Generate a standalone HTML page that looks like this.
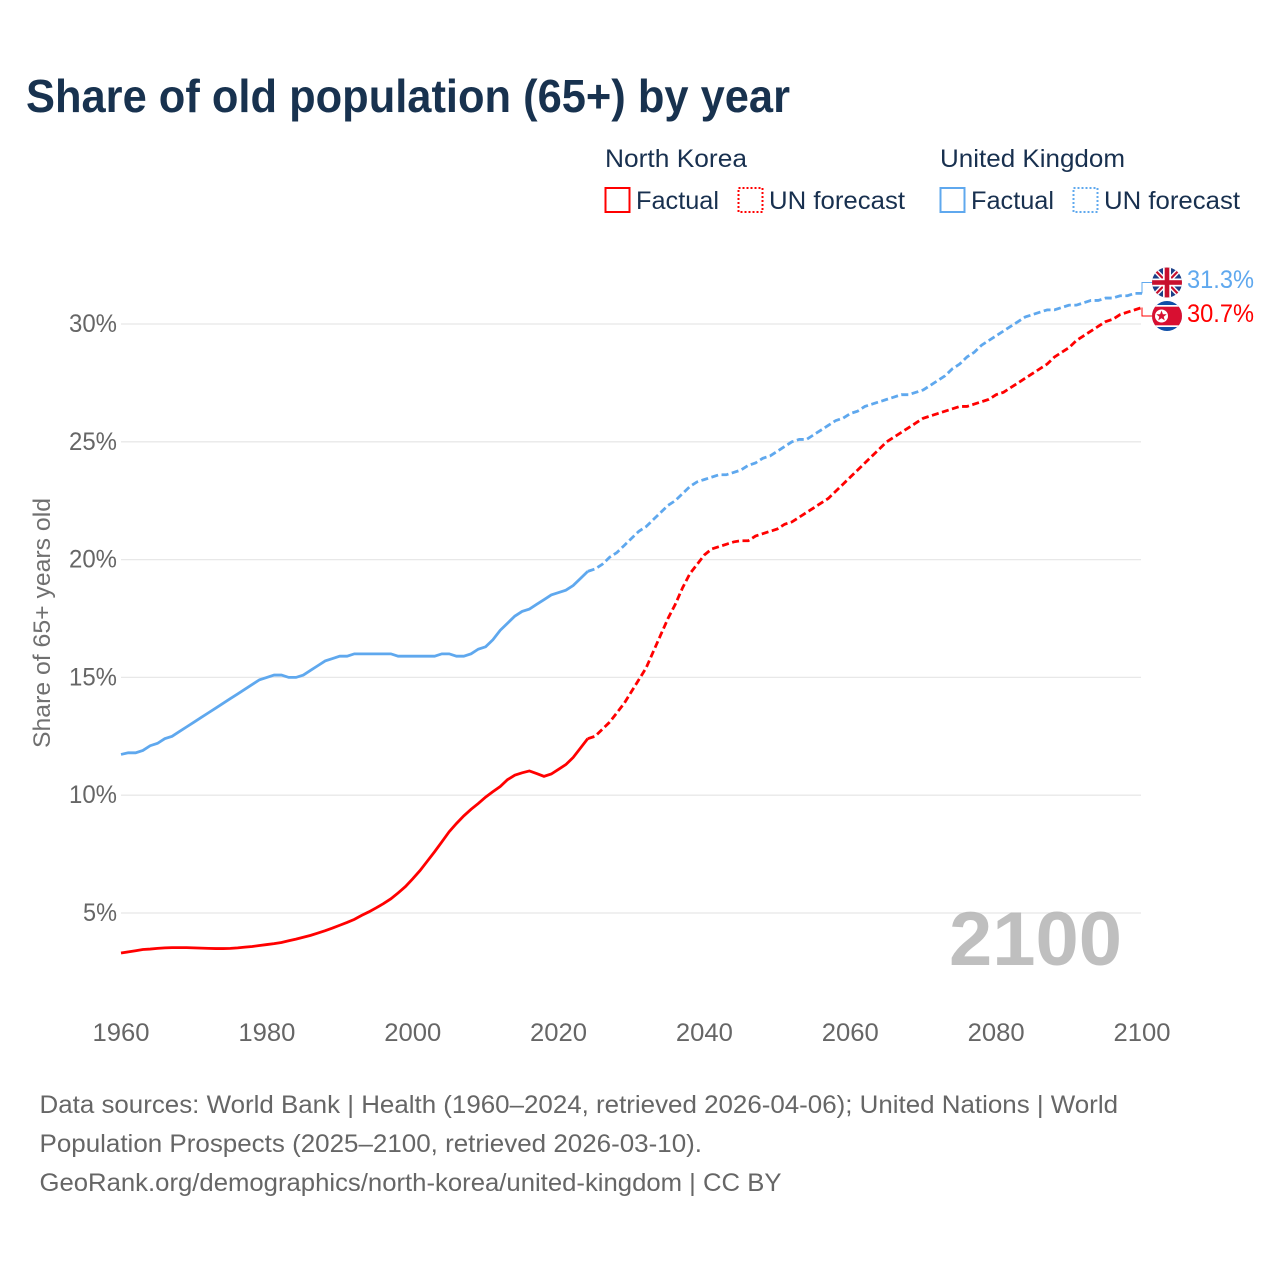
<!DOCTYPE html>
<html lang="en">
<head>
<meta charset="utf-8">
<title>Share of old population (65+) by year</title>
<style>
html,body{margin:0;padding:0;background:#fff;width:1280px;height:1280px;overflow:hidden}
svg{display:block}
text{font-family:"Liberation Sans",sans-serif}
.lg{font-size:25px;fill:#18304f}
.ft{font-size:25px;fill:#666}
</style>
</head>
<body>
<svg id="chart" xmlns="http://www.w3.org/2000/svg" width="1280" height="1280" viewBox="0 0 1280 1280">
  <rect width="1280" height="1280" fill="#fff"/>
  <text x="26" y="112" font-size="46" font-weight="700" fill="#18324f" textLength="764" lengthAdjust="spacingAndGlyphs">Share of old population (65+) by year</text>

  <g>
    <text class="lg" x="605" y="167" textLength="142" lengthAdjust="spacingAndGlyphs">North Korea</text>
    <rect x="605.5" y="188" width="24" height="24" fill="none" stroke="#ff0000" stroke-width="2"/>
    <text class="lg" x="636" y="209" textLength="83" lengthAdjust="spacingAndGlyphs">Factual</text>
    <rect x="738.5" y="188" width="24" height="24" fill="none" stroke="#ff0000" stroke-width="2" stroke-dasharray="2 2"/>
    <text class="lg" x="769" y="209" textLength="136" lengthAdjust="spacingAndGlyphs">UN forecast</text>
    <text class="lg" x="940" y="167" textLength="185" lengthAdjust="spacingAndGlyphs">United Kingdom</text>
    <rect x="940.5" y="188" width="24" height="24" fill="none" stroke="#5fa8ee" stroke-width="2"/>
    <text class="lg" x="971" y="209" textLength="83" lengthAdjust="spacingAndGlyphs">Factual</text>
    <rect x="1073.5" y="188" width="24" height="24" fill="none" stroke="#5fa8ee" stroke-width="2" stroke-dasharray="2 2"/>
    <text class="lg" x="1104" y="209" textLength="136" lengthAdjust="spacingAndGlyphs">UN forecast</text>
  </g>

  <g id="grid"></g>
  <text x="949" y="965" font-size="76" font-weight="700" fill="#b4b4b4" fill-opacity="0.85" textLength="173" lengthAdjust="spacingAndGlyphs">2100</text>
  <g id="yticks"></g>
  <g id="xticks"></g>
  <text transform="translate(50,748) rotate(-90)" font-size="24" fill="#707070" textLength="250" lengthAdjust="spacingAndGlyphs">Share of 65+ years old</text>
  <g id="series"></g>

  <defs>
    <clipPath id="ukClip"><circle cx="1167" cy="282.5" r="15"/></clipPath>
    <clipPath id="nkClip"><circle cx="1167" cy="316" r="15"/></clipPath>
  </defs>
  <g clip-path="url(#ukClip)">
    <rect x="1150" y="265" width="34" height="36" fill="#1c3f87"/>
    <path d="M1150 265 L1184 300 M1184 265 L1150 300" stroke="#fff" stroke-width="5"/>
    <path d="M1150 265 L1184 300 M1184 265 L1150 300" stroke="#c8102e" stroke-width="2.2"/>
    <rect x="1163" y="265" width="8" height="36" fill="#fff"/>
    <rect x="1150" y="278.5" width="34" height="8" fill="#fff"/>
    <rect x="1164.7" y="265" width="4.6" height="36" fill="#c8102e"/>
    <rect x="1150" y="280.2" width="34" height="4.6" fill="#c8102e"/>
  </g>
  <g clip-path="url(#nkClip)">
    <rect x="1150" y="300" width="34" height="32" fill="#0f4fa8"/>
    <rect x="1150" y="305" width="34" height="22" fill="#fff"/>
    <rect x="1150" y="306.7" width="34" height="18.6" fill="#d80f31"/>
    <circle cx="1161.5" cy="316" r="6.5" fill="#fff"/>
    <polygon points="1161.5,310.5 1162.9,314.2 1166.7,314.3 1163.7,316.7 1164.8,320.4 1161.5,318.2 1158.2,320.4 1159.3,316.7 1156.3,314.3 1160.1,314.2" fill="#d80f31"/>
  </g>

  <g>
    <text class="ft" x="39.5" y="1113" textLength="1078.5" lengthAdjust="spacingAndGlyphs">Data sources: World Bank | Health (1960–2024, retrieved 2026-04-06); United Nations | World</text>
    <text class="ft" x="39.5" y="1152" textLength="662.5" lengthAdjust="spacingAndGlyphs">Population Prospects (2025–2100, retrieved 2026-03-10).</text>
    <text class="ft" x="39.5" y="1191" textLength="742" lengthAdjust="spacingAndGlyphs">GeoRank.org/demographics/north-korea/united-kingdom | CC BY</text>
  </g>
</svg>
<script>
const factualStartYear = 1960;
const forecastStartYear = 2024;
const yTickValues = [5, 10, 15, 20, 25, 30];
const xTickYears = [1960, 1980, 2000, 2020, 2040, 2060, 2080, 2100];

const ukFactual = [11.73,11.8,11.8,11.9,12.1,12.2,12.4,12.5,12.7,12.9,
  13.1,13.3,13.5,13.7,13.9,14.1,14.3,14.5,14.7,14.9,
  15.0,15.1,15.1,15.0,15.0,15.1,15.3,15.5,15.7,15.8,
  15.9,15.9,16.0,16.0,16.0,16.0,16.0,16.0,15.9,15.9,
  15.9,15.9,15.9,15.9,16.0,16.0,15.9,15.9,16.0,16.2,
  16.3,16.6,17.0,17.3,17.6,17.8,17.9,18.1,18.3,18.5,
  18.6,18.7,18.9,19.2,19.5];
const ukForecast = [19.5,19.6,19.8,20.1,20.3,20.6,20.9,21.2,21.4,21.7,22.0,
  22.3,22.5,22.8,23.1,23.3,23.4,23.5,23.6,23.6,23.7,
  23.8,24.0,24.1,24.3,24.4,24.6,24.8,25.0,25.1,25.1,
  25.3,25.5,25.7,25.9,26.0,26.2,26.3,26.5,26.6,26.7,
  26.8,26.9,27.0,27.0,27.1,27.2,27.4,27.6,27.8,28.1,
  28.3,28.6,28.8,29.1,29.3,29.5,29.7,29.9,30.1,30.3,
  30.4,30.5,30.6,30.6,30.7,30.8,30.8,30.9,31.0,31.0,
  31.1,31.1,31.2,31.2,31.3,31.3];
const nkFactual = [3.3,3.35,3.4,3.45,3.47,3.5,3.52,3.53,3.53,3.53,
  3.52,3.51,3.5,3.49,3.49,3.5,3.52,3.55,3.58,3.62,
  3.66,3.7,3.75,3.82,3.89,3.97,4.05,4.15,4.25,4.36,
  4.48,4.6,4.73,4.9,5.05,5.22,5.4,5.6,5.85,6.12,
  6.45,6.8,7.2,7.6,8.02,8.45,8.8,9.12,9.4,9.65,
  9.92,10.15,10.37,10.66,10.85,10.95,11.03,10.92,10.8,10.9,
  11.1,11.3,11.6,12.0,12.4];
const nkForecast = [12.4,12.5,12.8,13.1,13.5,13.9,14.4,14.9,15.4,16.1,16.8,
  17.5,18.1,18.8,19.4,19.8,20.2,20.45,20.55,20.65,20.75,
  20.8,20.8,21.0,21.1,21.2,21.3,21.5,21.6,21.8,22.0,
  22.2,22.4,22.6,22.9,23.2,23.5,23.8,24.1,24.4,24.7,
  25.0,25.2,25.4,25.6,25.8,26.0,26.1,26.2,26.3,26.4,
  26.5,26.5,26.6,26.7,26.8,27.0,27.1,27.3,27.5,27.7,
  27.9,28.1,28.3,28.6,28.8,29.0,29.3,29.5,29.7,29.9,
  30.1,30.2,30.4,30.5,30.6,30.7];

const NS = 'http://www.w3.org/2000/svg';
const xScale = function (year) { return 121 + (year - 1960) * (1021 / 140); };
const yScale = function (v) { return 913 - (v - 5) * 23.56; };

function pathFrom(values, startYear) {
  return values.map(function (v, i) {
    return (i ? 'L' : 'M') + xScale(startYear + i).toFixed(2) + ' ' + yScale(v).toFixed(2);
  }).join(' ');
}

const grid = document.getElementById('grid');
const yticks = document.getElementById('yticks');
yTickValues.forEach(function (v) {
  const ln = document.createElementNS(NS, 'line');
  
  
  ln.setAttribute('x1', 121);
  ln.setAttribute('x2', 1141);
  ln.setAttribute('y1', yScale(v));
  ln.setAttribute('y2', yScale(v));
  ln.setAttribute('stroke', '#e8e8e8');
  ln.setAttribute('stroke-width', '1.3');
  grid.appendChild(ln);
  const t = document.createElementNS(NS, 'text');
  
  
  t.setAttribute('x', 117);
  t.setAttribute('y', yScale(v) + 8);
  t.setAttribute('text-anchor', 'end');
  t.setAttribute('font-size', '25');
  t.setAttribute('fill', '#666');
  t.setAttribute('textLength', v >= 10 ? '48' : '34');
  t.setAttribute('lengthAdjust', 'spacingAndGlyphs');
  t.textContent = v + '%';
  yticks.appendChild(t);
});

const xticks = document.getElementById('xticks');
xTickYears.forEach(function (yr) {
  const t = document.createElementNS(NS, 'text');
  
  
  t.setAttribute('x', xScale(yr));
  t.setAttribute('y', 1041);
  t.setAttribute('text-anchor', 'middle');
  t.setAttribute('font-size', '25');
  t.setAttribute('fill', '#666');
  t.setAttribute('textLength', '57');
  t.setAttribute('lengthAdjust', 'spacingAndGlyphs');
  t.textContent = String(yr);
  xticks.appendChild(t);
});

const series = document.getElementById('series');

const ukFactualLine = document.createElementNS(NS, 'path');


ukFactualLine.setAttribute('d', pathFrom(ukFactual, factualStartYear));
ukFactualLine.setAttribute('fill', 'none');
ukFactualLine.setAttribute('stroke', '#5fa8ee');
ukFactualLine.setAttribute('stroke-width', '2.8');
series.appendChild(ukFactualLine);

const ukForecastLine = document.createElementNS(NS, 'path');


ukForecastLine.setAttribute('d', pathFrom(ukForecast, forecastStartYear));
ukForecastLine.setAttribute('fill', 'none');
ukForecastLine.setAttribute('stroke', '#5fa8ee');
ukForecastLine.setAttribute('stroke-width', '2.8');
ukForecastLine.setAttribute('stroke-dasharray', '7 3.5');
series.appendChild(ukForecastLine);

const nkFactualLine = document.createElementNS(NS, 'path');


nkFactualLine.setAttribute('d', pathFrom(nkFactual, factualStartYear));
nkFactualLine.setAttribute('fill', 'none');
nkFactualLine.setAttribute('stroke', '#ff0000');
nkFactualLine.setAttribute('stroke-width', '2.8');
series.appendChild(nkFactualLine);

const nkForecastLine = document.createElementNS(NS, 'path');


nkForecastLine.setAttribute('d', pathFrom(nkForecast, forecastStartYear));
nkForecastLine.setAttribute('fill', 'none');
nkForecastLine.setAttribute('stroke', '#ff0000');
nkForecastLine.setAttribute('stroke-width', '2.8');
nkForecastLine.setAttribute('stroke-dasharray', '7 3.5');
series.appendChild(nkForecastLine);

const ukEnd = ukForecast[ukForecast.length - 1];
const nkEnd = nkForecast[nkForecast.length - 1];
const endX = xScale(2100);

const ukConnector = document.createElementNS(NS, 'path');


ukConnector.setAttribute('d', 'M' + endX + ' ' + yScale(ukEnd) + ' V282.5 H1153');
ukConnector.setAttribute('fill', 'none');
ukConnector.setAttribute('stroke', '#5fa8ee');
ukConnector.setAttribute('stroke-width', '1');
series.appendChild(ukConnector);

const nkConnector = document.createElementNS(NS, 'path');


nkConnector.setAttribute('d', 'M' + endX + ' ' + yScale(nkEnd) + ' V316 H1153');
nkConnector.setAttribute('fill', 'none');
nkConnector.setAttribute('stroke', '#ff0000');
nkConnector.setAttribute('stroke-width', '1');
series.appendChild(nkConnector);

const ukLabel = document.createElementNS(NS, 'text');


ukLabel.setAttribute('x', 1187);
ukLabel.setAttribute('y', 288);
ukLabel.setAttribute('font-size', '25');
ukLabel.setAttribute('fill', '#5fa8ee');
ukLabel.setAttribute('textLength', '67');
ukLabel.setAttribute('lengthAdjust', 'spacingAndGlyphs');
ukLabel.textContent = ukEnd.toFixed(1) + '%';
series.appendChild(ukLabel);

const nkLabel = document.createElementNS(NS, 'text');


nkLabel.setAttribute('x', 1187);
nkLabel.setAttribute('y', 322);
nkLabel.setAttribute('font-size', '25');
nkLabel.setAttribute('fill', '#ff0000');
nkLabel.setAttribute('textLength', '67');
nkLabel.setAttribute('lengthAdjust', 'spacingAndGlyphs');
nkLabel.textContent = nkEnd.toFixed(1) + '%';
series.appendChild(nkLabel);
</script>
</body>
</html>
